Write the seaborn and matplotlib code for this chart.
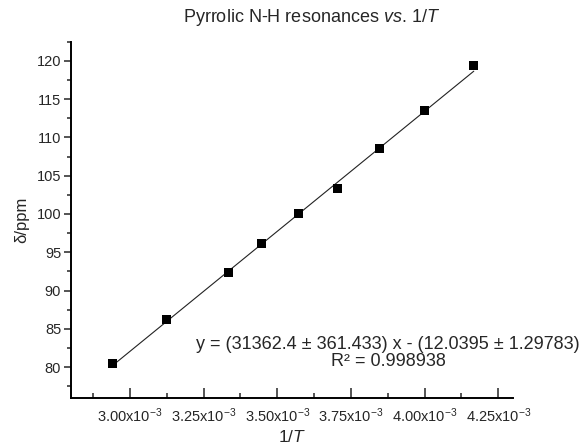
import matplotlib
matplotlib.use("Agg")
import matplotlib.pyplot as plt
import matplotlib.ticker as mticker
import seaborn as sns
import pandas as pd
import numpy as np

# Data
inv_T = [2.941e-3, 3.125e-3, 3.333e-3, 3.448e-3, 3.571e-3, 3.704e-3, 3.846e-3, 4.000e-3, 4.167e-3]
shift_ppm = [80.5, 86.2, 92.3, 96.1, 100.0, 103.3, 108.5, 113.5, 119.4]
slope = 31362.4
intercept = -12.0395
x_ticks = [3.00e-3, 3.25e-3, 3.50e-3, 3.75e-3, 4.00e-3, 4.25e-3]
y_ticks = [80, 85, 90, 95, 100, 105, 110, 115, 120]

title = "Pyrrolic N-H resonances $\\it{vs.}\\,$1/$\\it{T}$"
eq_text = "y = (31362.4 ± 361.433) x - (12.0395 ± 1.29783)\nR² = 0.998938"

sns.set_theme(style="ticks")
plt.rcParams['font.family'] = ['Liberation Sans', 'DejaVu Sans']
plt.rcParams['mathtext.fontset'] = 'custom'
plt.rcParams['mathtext.rm'] = 'Liberation Sans'
plt.rcParams['mathtext.it'] = 'Liberation Sans:italic'

df = pd.DataFrame({"x": inv_T, "y": shift_ppm})
xfit = np.array([min(inv_T), max(inv_T)])
fit_df = pd.DataFrame({"x": xfit, "y": slope * xfit + intercept})

fig = plt.figure(figsize=(5.88, 4.46), dpi=100)
ax = fig.add_axes([0.1207, 0.1083, 0.7517, 0.7982])

sns.lineplot(data=fit_df, x="x", y="y", ax=ax, color="#222222", linewidth=0.8, zorder=2)
sns.scatterplot(data=df, x="x", y="y", ax=ax, marker="s", s=42, color="black",
                edgecolor="none", zorder=3)

ax.set_xlim(2.8e-3, 4.3e-3)
ax.set_ylim(76, 122.5)
ax.set_xticks(x_ticks)
ax.set_yticks(y_ticks)
ax.xaxis.set_minor_locator(mticker.MultipleLocator(0.125e-3))
ax.yaxis.set_minor_locator(mticker.MultipleLocator(2.5))

def fmt(v, pos):
    return r"%.2fx10$^{-3}$" % (v * 1e3)
ax.xaxis.set_major_formatter(mticker.FuncFormatter(fmt))

ax.tick_params(axis='x', which='major', direction='in', length=7, width=1.1, labelsize=10.5, pad=6)
ax.tick_params(axis='x', which='minor', direction='in', length=3.5, width=1.1)
ax.tick_params(axis='y', which='major', direction='out', length=5, width=1.1, labelsize=10.5, pad=2)
ax.tick_params(axis='y', which='minor', direction='out', length=3, width=1.1)

for s in ['top', 'right']:
    ax.spines[s].set_visible(False)
for s in ['left', 'bottom']:
    ax.spines[s].set_linewidth(1.4)
    ax.spines[s].set_color('black')

ax.set_xlabel("1/$\\it{T}$", fontsize=12.5, labelpad=3)
ax.set_ylabel("δ/ppm", fontsize=12, labelpad=5)

fig.text(312 / 588, 1 - 18 / 446, title, ha='center', va='center', fontsize=13)
ax.text(388 / 588, 1 - 353 / 446, eq_text, transform=fig.transFigure, ha='center', va='center',
        fontsize=13, linespacing=1.0)

fig.savefig("out.png", dpi=100)
